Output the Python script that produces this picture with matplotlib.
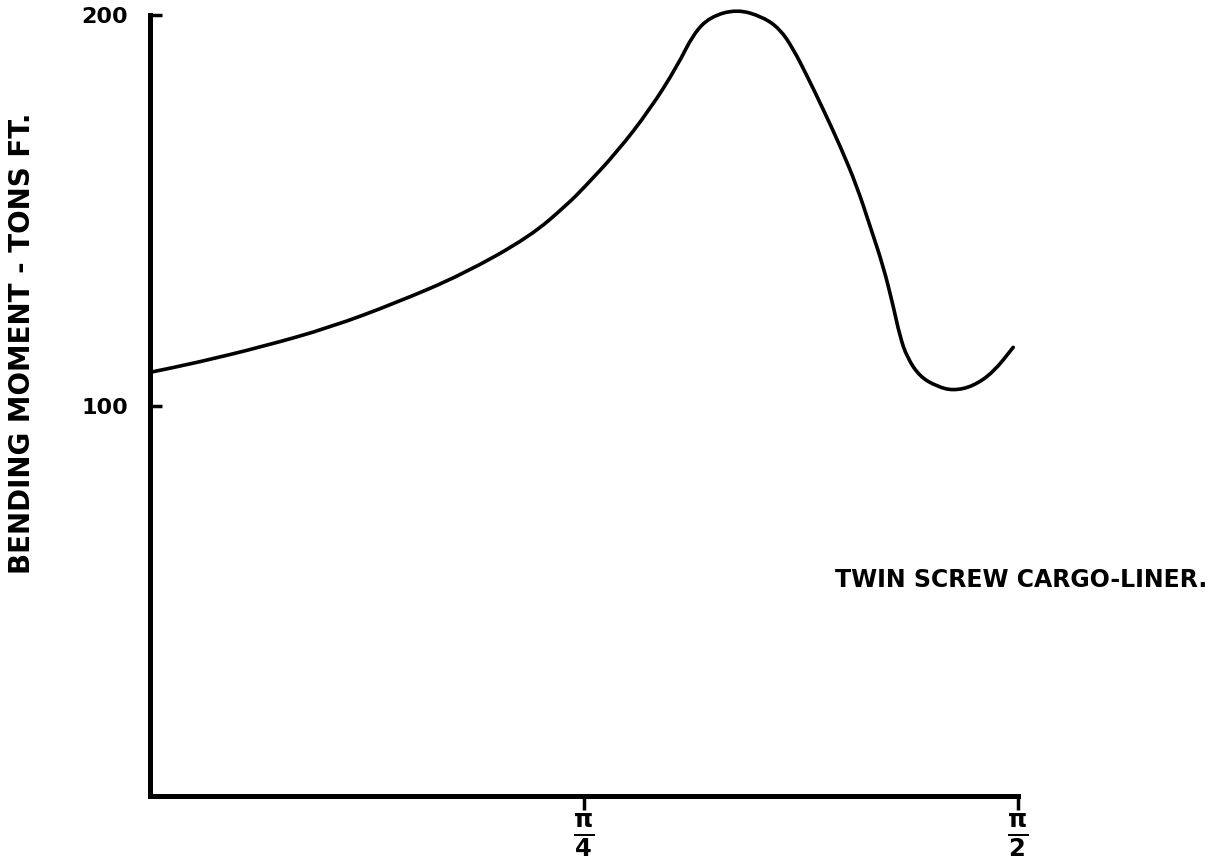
import numpy as np
import matplotlib
matplotlib.use("Agg")
import matplotlib.pyplot as plt
from matplotlib.path import Path
from matplotlib.patches import PathPatch

# angle (radians) vs bending moment (tons ft)
angle = [0.000, 0.085, 0.204, 0.326, 0.447, 0.566, 0.688, 0.755, 0.784, 0.845,
         0.905, 0.954, 0.983, 1.013, 1.062, 1.109, 1.140, 1.164, 1.189, 1.218,
         1.249, 1.279, 1.303, 1.327, 1.345, 1.357, 1.370, 1.393, 1.424, 1.453,
         1.489, 1.526, 1.562]
moment = [108.5, 111.0, 115.1, 120.0, 126.4, 133.6, 143.3, 151.5, 155.6, 164.9,
          175.9, 186.9, 195.1, 199.5, 201.5, 199.5, 196.4, 191.3, 184.4, 175.9,
          166.4, 156.2, 145.9, 135.6, 125.4, 117.7, 112.3, 107.4, 104.9, 103.8,
          104.9, 108.5, 114.9]

x_ticks = [np.pi / 4, np.pi / 2]
x_labels = [r"$\mathbf{\frac{\pi}{4}}$", r"$\mathbf{\frac{\pi}{2}}$"]
y_ticks = [100, 200]

fig = plt.figure(figsize=(12.21, 8.63), dpi=100)
ax = fig.add_axes([0.1229, 0.0776, 0.7109, 0.905])

# smooth hand-drawn look: quadratic curves through midpoints of the read points
pts = np.column_stack([angle, moment])
mids = (pts[:-1] + pts[1:]) / 2
verts = [pts[0], mids[0]]
codes = [Path.MOVETO, Path.LINETO]
for i in range(1, len(pts) - 1):
    verts += [pts[i], mids[i]]
    codes += [Path.CURVE3, Path.CURVE3]
verts.append(pts[-1])
codes.append(Path.LINETO)
curve = PathPatch(Path(verts, codes), fill=False, edgecolor="black", lw=2.6,
                  capstyle="round", joinstyle="round", clip_on=False)
ax.add_patch(curve)

ax.set_xlim(0, np.pi / 2)
ax.set_ylim(0, 200)

for s in ["top", "right"]:
    ax.spines[s].set_visible(False)
for s in ["left", "bottom"]:
    ax.spines[s].set_linewidth(3.6)
    ax.spines[s].set_capstyle("projecting")

ax.set_yticks(y_ticks)
ax.set_yticklabels([str(v) for v in y_ticks], fontsize=16, fontweight="bold")
ax.tick_params(axis="y", direction="in", length=8.5, width=2.5, pad=16)

ax.set_xticks(x_ticks)
ax.set_xticklabels(x_labels, fontsize=25)
ax.tick_params(axis="x", direction="out", length=10, width=2.5, pad=1)

fig.text(22 / 1221, 1 - 343 / 863, "BENDING MOMENT - TONS FT.", rotation=90,
         ha="center", va="center", fontsize=20, fontweight="bold")
fig.text(835 / 1221, 1 - 580 / 863, "TWIN SCREW CARGO-LINER.",
         ha="left", va="center", fontsize=17, fontweight="bold")

fig.savefig("out.png", dpi=100, facecolor="white")
